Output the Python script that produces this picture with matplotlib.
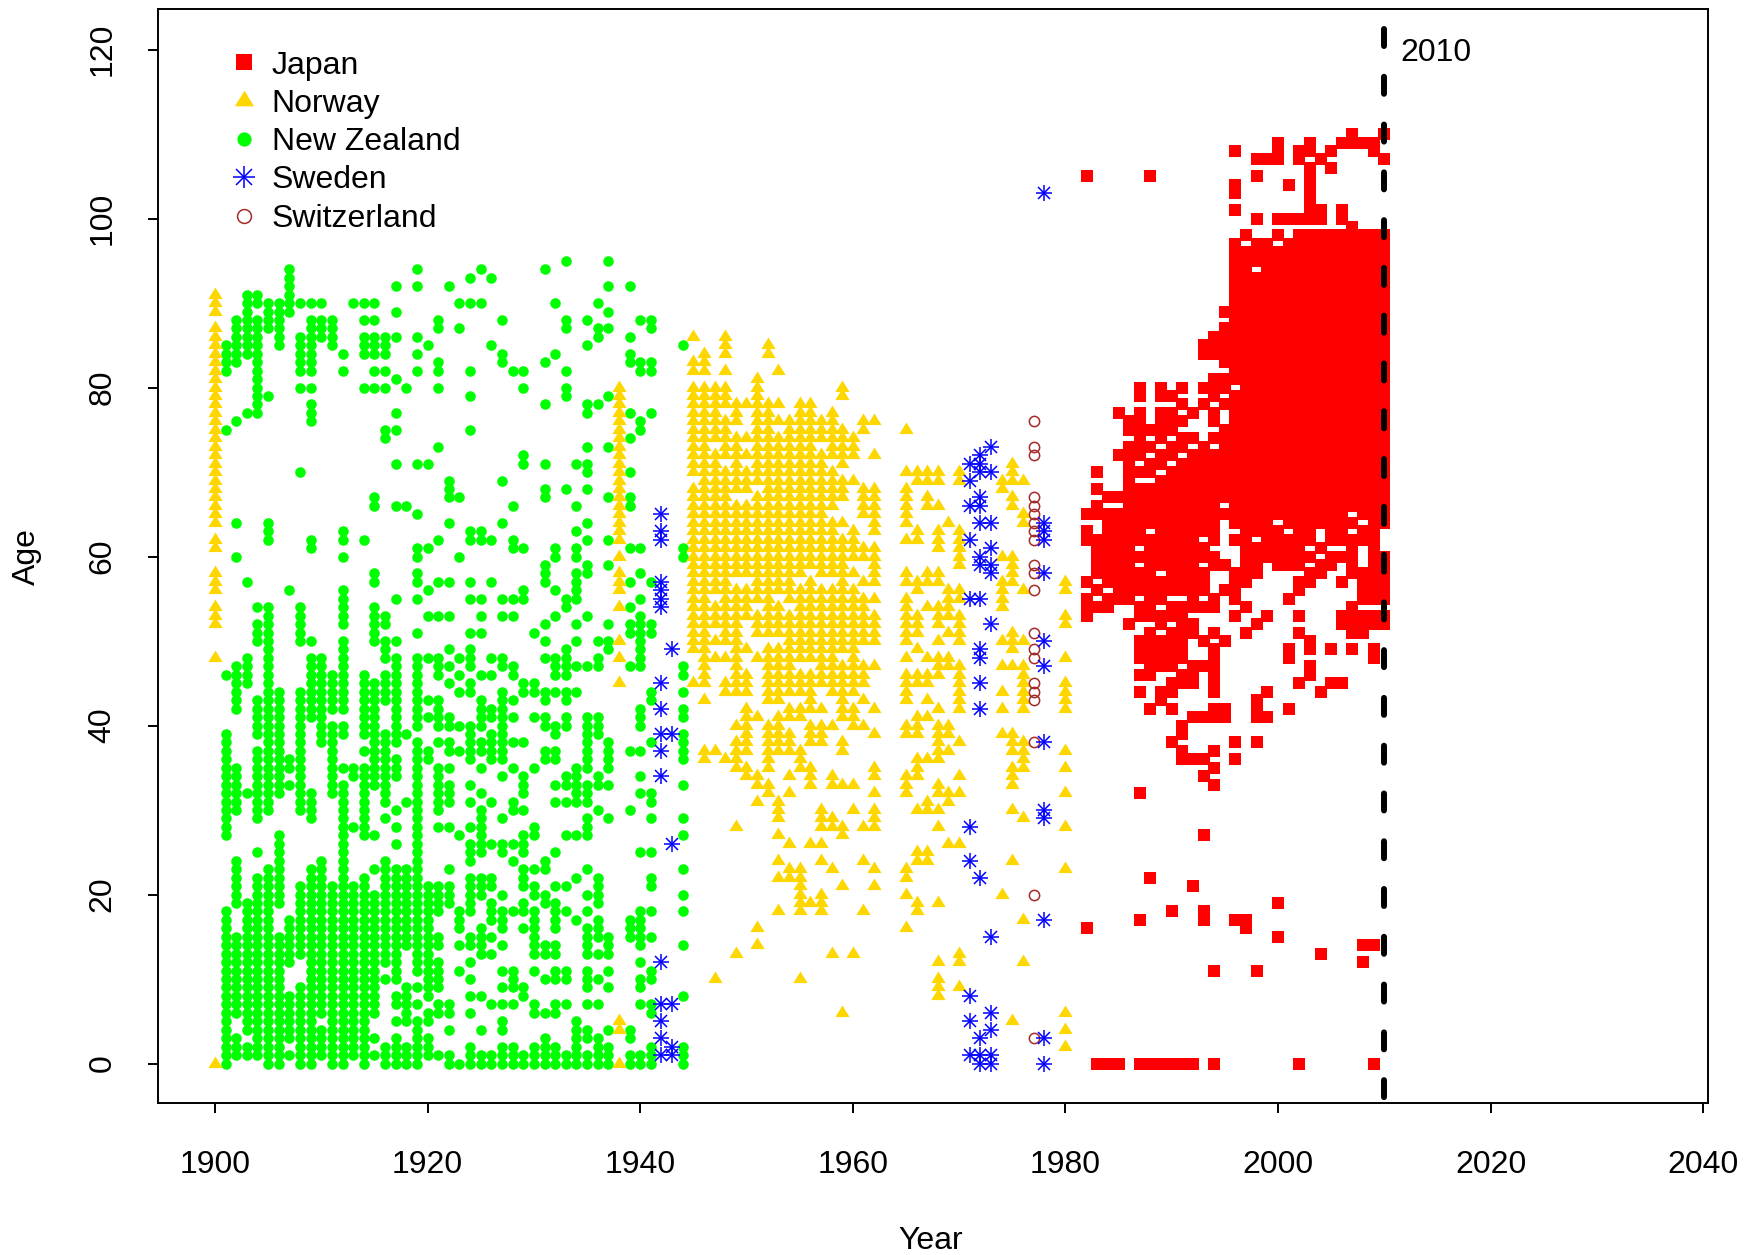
import matplotlib
matplotlib.use('Agg')
import matplotlib.pyplot as plt
from matplotlib.legend_handler import HandlerTuple

plt.rcParams['font.family'] = ['Liberation Sans', 'DejaVu Sans']

# ages per year. "a-b" is a solid run of ages
nz_ages = {
    1901: "0-18 27-39 46 75 82-85",
    1902: "1-3 6-15 19-24 30-35 42-47 60 64 76 83-88",
    1903: "1-2 4-19 32 45-48 57 77 84-91",
    1904: "1-22 25 29-37 39-43 50-52 54 77-88 90-91",
    1905: "0-23 30-54 62-64 79 87-90",
    1906: "0-15 19-27 32-44 85-90",
    1907: "1 3-8 12-17 33 35-36 56 89-94",
    1908: "0-9 13-21 30-44 50-54 70 80 82-86 90",
    1909: "0-23 29-32 41-48 50 61-62 76-78 80 82-88 90",
    1910: "1-4 6-24 38-48 86-88 90",
    1911: "0-21 32-40 42-46 85-88",
    1912: "0-33 35 39-40 42-50 52-56 60 62-63 82 84",
    1913: "1-21 28 34-35 90",
    1914: "0-22 27-35 37 39-46 62 80 84-86 88 90",
    1915: "1 3 6-20 23 27 33-45 50-54 57-58 66-67 80 82 84-86 88 90",
    1916: "0-2 10 12-24 29 31-39 43-46 48-50 52-53 74-75 80 82 84-86",
    1917: "0-3 5 7-8 10-23 26 28 30 34-36 38-48 50 55 66 71 75 77 81 86 89 92",
    1918: "0-2 5-9 14-23 31 39 66 80",
    1919: "0-5 7 9 11-38 40-48 51 55 57-58 60-61 65 71 82 84 86 92 94",
    1920: "1-3 5-6 8-21 36-37 41 43 48 53 56 61 71 85",
    1921: "1 6-7 9-12 14-15 18-21 28 30-35 38 40-43 46-48 53 57 62 73 80 82-83 87-88",
    1922: "0-1 4 6-7 19-21 23 28 31-33 35 37-38 40-41 45 47 49 53 57 64 67-69 92",
    1923: "0 11 14 16-18 27 37 40 44 46 48 60 67 87 90",
    1924: "0-2 6 8 10 12 14-15 18-22 24-26 28 31 33 36-40 44-45 47-49 51 55 57 62-63 75 79 82 90 93",
    1925: "0-1 4 8 13-16 20-22 25-30 32 35 37-38 40-43 46 51 53 55 62-63 90 94",
    1926: "0-1 7 13 15 17-19 21-22 26 31 36-39 41-42 46 48 57 62 85 93",
    1927: "0-2 4-5 7 9 11 14 16-18 20 25-26 29 34 36-44 47-48 53 55 64 69 83-84 88",
    1928: "0-2 7 9-11 18 24 26 30-31 35 38 41 43 46-47 53 55 61-62 66 82",
    1929: "0-1 8-9 16 18-19 21-23 25-27 30 32-34 38 44-45 55-56 61 71-72 80 82",
    1930: "0-2 6-7 11 13-18 20-21 23 27-28 35 41 44-45 51",
    1931: "0-3 6 10 13-14 19-20 23-24 36-37 40-41 43-44 48 50 52 57-59 67-68 71 78 83 94",
    1932: "0-2 6-7 10-11 13-14 16-19 21 25 31 33 36-37 39-40 44 46-48 53 56 60-61 84 90",
    1933: "0-1 7 10-11 18 21 27 31 33-34 40-41 43-44 46-49 54-55 68 79-80 82 87-88 95",
    1934: "0-5 17 22 27 31-35 44 47 50 52 55-58 60-61 63 66 71",
    1935: "0-1 3-4 7 9-11 13-16 18 20 23 27-29 31-33 35-41 47 53 58-59 62 64 68 70-71 73 77-78 85 88",
    1936: "0-3 7 10 13 15-17 19-22 30 33-34 39-41 47-48 50 78 86-87 90",
    1937: "0-2 4 9 11 13-15 29 33 35-38 49-50 52 59 62 67 73 79 87 89 92 95",
    1939: "0-1 3-4 15-17 30 37 47 51-52 54 57 61 66-67 70 74 77 83-84 86 92",
    1940: "0-1 7 9-10 12 14-18 25 32 34 37 40-42 47-53 55 58 61 75-76 82-83 88",
    1941: "0-2 6-7 10-11 15 18 21-22 25 29 31-32 38 43-44 51-52 57 77 82-83 87-88",
    1944: "0-2 8 14 18 20 23 27 29 33 36-39 41-42 44 46-47 60-61 85",
}

norway_ages = {
    1900: "0 48 52-54 56-58 61-62 64-87 89-91",
    1938: "0 4-5 45 48 50 54 56-58 60 62-80",
    1945: "45 49-68 70-80 82-83 86",
    1946: "36-37 43 45-80 82-84",
    1947: "10 37 48 50 52-54 56-72 74-80",
    1948: "36 44-45 48 50-70 72-76 78-80 82 84-86",
    1949: "13 28 35-38 40 44-56 58-66 68-74 76-78",
    1950: "34-35 37-42 44-46 49 53-56 58-66 68-70 72 74 78",
    1951: "14 16 31 33-34 41 48 51-53 55-67 69-81",
    1952: "32-33 35-40 43-49 51-78 84-85",
    1953: "18 22 24 27 29-31 37-41 43-49 51-54 56-74 76 78 82",
    1954: "22-23 26 32 34 37-39 41-42 44-53 55-76",
    1955: "10 18-23 35-37 41-42 44-46 48-56 58-78",
    1956: "19 26 33-35 38-40 42-46 48-57 59-78",
    1957: "18-20 24 26 28-30 38-40 42 45-56 58-72 74-76",
    1958: "13 23 28-29 33-34 40 44-56 58-64 66-70 72-77",
    1959: "6 21 27-28 33 37-38 41-47 49-62 64 67-69 71-75 79-80",
    1960: "13 30 33 40-42 44-56 58 60-63 69 72-74",
    1961: "18 24 28 40 43 45-47 50-55 57 60-61 65-68 75-76",
    1962: "21 23 28-30 32 34-35 39 42 47 50-53 55 57-61 63-68 72 76",
    1965: "16 20 22-23 32-34 39-40 43-46 48 50-55 57-58 62 64-68 70 75",
    1966: "18-19 24-25 30 34-36 39-41 45-46 49 51-53 56-57 62-63 69-70",
    1967: "24-25 30-31 36 41 43 45-46 48 54 57-58 66-67 69-70",
    1968: "8-10 12 19 28 30 32-33 36-40 42 46-48 50 52-54 57-58 61-63 66 69-70",
    1969: "26 31-32 37 39-40 47-48 51 53-56 64",
    1970: "9 12-13 26 32 34 38 42-47 50-53 55-56 59-63 69-70",
    1974: "20 39 42 44 47 50 54-57 60 68-69",
    1975: "5 24 30 33-35 37-39 47 49-51 57-60 66-67 69-71",
    1976: "12 17 29 35-38 42-47 50 56 64-65 69",
    1980: "2 4 6 23 28 32 35 37 42-45 48 52-53 56-57",
}

sweden_ages = {
    1942: "1 3 5 7 12 34 37 39 42 45 54-57 62-63 65",
    1943: "1-2 7 26 39 49",
    1971: "1 5 8 24 28 55 62 66 69 71",
    1972: "0-1 3 22 42 45 48-49 55 59-60 64 66-67 70-72",
    1973: "0-1 4 6 15 52 58-59 61 64 70 73",
    1978: "0 3 17 29-30 38 47 50 58 62-64 103",
}

switzerland_ages = {
    1977: "3 20 38 43-45 48-49 51 56 58-59 62-67 72-73 76",
}

japan_ages = {
    1982: "16 53-55 57 62-63 65 105",
    1983: "0 54 56 58-62 65-66 68 70",
    1984: "0 54-55 57-65 67",
    1985: "0 55-65 67 72 77",
    1986: "52 55-73 75-76",
    1987: "0 17 32 44 46 48-50 53-54 56-58 60 62-68 70 72-77 79-80",
    1988: "0 22 42 46-51 53-62 64-68 70-71 73 75 105",
    1989: "0 43-44 47-50 52-53 55-57 59-69 71-72 74-77 79-80",
    1990: "0 18 38 42 44-45 47-51 53-54 56-70 72-73 75-77 79",
    1991: "0 36-37 39-40 45-46 48-54 56-71 73-74 76 78 80",
    1992: "0 21 36 41 45-47 51-52 54-72 74 77",
    1993: "17-18 27 34 36 41 47 50 54 56-58 60-61 63-73 78 80 84-85",
    1994: "0 11 33 35 37 41-42 44-49 51 54-55 59-60 62-72 74 76-77 79-81 84-86",
    1995: "41-42 50 56 59 65 67-75 78 80-81 83-87 89",
    1996: "17 36 38 53 55-58 62 64-79 81-97 101 103-104 108",
    1997: "16-17 51 54 57-96 98",
    1998: "11 38 41-43 52 58-61 63-93 95-97 100 105 107",
    1999: "41 44 53 60-97 107",
    2000: "15 19 59-63 65-96 98 100 107-109",
    2001: "42 48-49 55 59-62 64-97 100 104",
    2002: "0 45 51 53 56-57 59-98 100 107-108",
    2003: "46-47 49-50 57-58 60 62-98 100-106 108-109",
    2004: "13 44 58-59 61 64-98 100-101 107",
    2005: "45 49 59-60 62-98 106 108",
    2006: "45 52-53 57 60 62-98 100-101 109",
    2007: "49 51-54 58-62 64 66-99 109-110",
    2008: "12 14 51-53 55-58 62-63 65-98 109",
    2009: "0 14 48-49 52-53 55-98 108-109",
    2010: "52-53 55-60 64-98 107 110",
}

year_ticks = [1900, 1920, 1940, 1960, 1980, 2000, 2020, 2040]
age_ticks = [0, 20, 40, 60, 80, 100, 120]


def expand(table):
    '''Turn the year -> "a-b c" table into x and y lists'''
    xs, ys = [], []
    for year, ages in table.items():
        for part in ages.split():
            lo, _, hi = part.partition('-')
            for age in range(int(lo), int(hi or lo) + 1):
                xs.append(year)
                ys.append(age)
    return xs, ys


W, H = 1756, 1255
fig = plt.figure(figsize=(W / 100, H / 100), dpi=100)
ax = fig.add_axes([158 / W, 1 - 1103 / H, 1550 / W, 1094 / H])

# triangle sits high on its point, like R's pch 17
tri = [(-1, -0.5), (1, -0.5), (0, 1.12)]

x, y = expand(nz_ages)
h_nz, = ax.plot(x, y, ls='none', marker='o', ms=7.6, mfc='#00FF00', mew=0, label='New Zealand')
x, y = expand(norway_ages)
h_no, = ax.plot(x, y, ls='none', marker=tri, ms=11.5, mfc='#FFD700', mew=0, label='Norway')
x, y = expand(switzerland_ages)
h_ch, = ax.plot(x, y, ls='none', marker='o', ms=7.4, mfc='none', mec='#A52A2A', mew=1.1, label='Switzerland')
x, y = expand(sweden_ages)
h_se1, = ax.plot(x, y, ls='none', marker='+', ms=11.5, mec='#0000FF', mew=1.1)
h_se2, = ax.plot(x, y, ls='none', marker='x', ms=8.2, mec='#0000FF', mew=1.1)
x, y = expand(japan_ages)
h_jp, = ax.plot(x, y, ls='none', marker='s', ms=8.5, mfc='#FF0000', mew=0, label='Japan')

# dashed 2010 marker, runs from just under the top down through the box
ax.plot([2010, 2010], [122.4, -6], color='black', lw=4.3, dashes=(2.85, 5.15), dash_capstyle='round')
ax.text(2011.5, 119.6, '2010', fontsize=23, ha='left', va='center')

ax.set_xlim(1894.64, 2040.45)
ax.set_ylim(-4.67, 124.8)
ax.set_xticks(year_ticks)
ax.set_yticks(age_ticks)
ax.tick_params(axis='x', length=7.5, width=1.4, labelsize=23, pad=26.5)
ax.tick_params(axis='y', length=7.5, width=1.4, labelsize=23, pad=21.5, labelrotation=90)
for lab in ax.get_yticklabels():
    lab.set_va('center')
for s in ax.spines.values():
    s.set_linewidth(1.4)

fig.text(931 / W, 1 - 1241 / H, 'Year', fontsize=23, ha='center', va='center')
fig.text(27 / W, 1 - 557 / H, 'Age', fontsize=23, ha='center', va='center', rotation=90)

ax.legend([h_jp, h_no, h_nz, (h_se1, h_se2), h_ch],
          ['Japan', 'Norway', 'New Zealand', 'Sweden', 'Switzerland'],
          handler_map={tuple: HandlerTuple(ndivide=1, pad=0)},
          loc='upper left', bbox_to_anchor=(0.045, 0.962), frameon=False, fontsize=23,
          numpoints=1, markerscale=1.35, handlelength=1.0, handletextpad=0.37, labelspacing=0.26,
          borderaxespad=0, borderpad=0)

fig.savefig('out.png', dpi=100)
